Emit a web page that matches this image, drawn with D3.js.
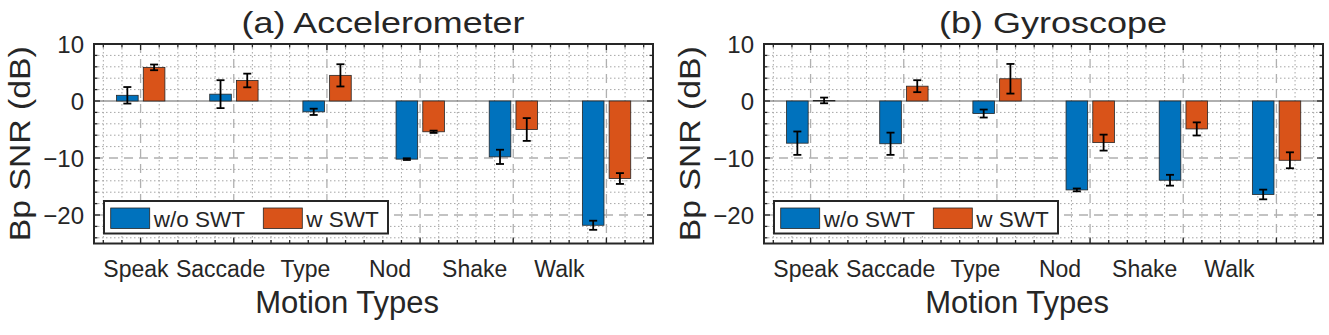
<!DOCTYPE html>
<html>
<head>
<meta charset="utf-8">
<script src="https://cdn.jsdelivr.net/npm/d3@7"></script>
<style>
body { margin: 0; background: #fff; }
text { font-family: "Liberation Sans", Arial, Helvetica, sans-serif; fill: #262626; }
</style>
</head>
<body>
<svg id="chart" width="1329" height="335"></svg>
<script>
// data (dB)
var motions = ["Speak", "Saccade", "Type", "Nod", "Shake", "Walk"];
var accWo    = [1.0, 1.2, -1.9, -10.2, -9.8, -21.8];
var accWoErr = [1.45, 2.45, 0.55, 0.15, 1.25, 0.8];
var accW     = [5.9, 3.6, 4.5, -5.4, -5.0, -13.6];
var accWErr  = [0.5, 1.2, 1.95, 0.2, 2.0, 0.95];
var gyrWo    = [-7.4, -7.5, -2.2, -15.6, -13.9, -16.4];
var gyrWoErr = [2.05, 1.95, 0.7, 0.25, 0.95, 0.85];
var gyrW     = [0.1, 2.6, 3.9, -7.3, -4.9, -10.4];
var gyrWErr  = [0.5, 1.05, 2.6, 1.4, 1.15, 1.4];
var yTicks = [-20, -10, 0, 10];
var seriesNames = ["w/o SWT", "w SWT"];

var blue = "#0072BD", orange = "#D95319";
var panelW = 559, plotTop = 44, plotBottom = 243.5;
var svg = d3.select("#chart");

function isInt(v) { return Math.abs(v - Math.round(v)) < 1e-6; }

function drawPanel(left, title, wo, woErr, w, wErr) {
  var g = svg.append("g");
  var x = d3.scaleLinear().domain([0.5, 6.5]).range([left, left + panelW]);
  var y = d3.scaleLinear().domain([-25, 10]).range([plotBottom, plotTop]);
  // category labels sit a bit left of the bar groups, as in the original
  var lab = d3.scalePoint().domain(motions).range([x(0.945), x(5.49)]);

  var xMinor = d3.range(3, 33).map(function (k) { return k * 0.2; }).filter(function (v) { return !isInt(v); });
  var xMajor = d3.range(1, 7);
  var yMinor = d3.range(-24, 10, 2).filter(function (v) { return v % 10 !== 0; });

  // grid
  g.selectAll(".gxm").data(xMinor).enter().append("line")
    .attr("x1", function (d) { return x(d); }).attr("x2", function (d) { return x(d); })
    .attr("y1", plotTop).attr("y2", plotBottom)
    .attr("stroke", "#a6a6a6").attr("stroke-width", 1).attr("stroke-dasharray", "1.5,2.5");
  g.selectAll(".gym").data(yMinor).enter().append("line")
    .attr("x1", left).attr("x2", left + panelW)
    .attr("y1", function (d) { return y(d); }).attr("y2", function (d) { return y(d); })
    .attr("stroke", "#a6a6a6").attr("stroke-width", 1).attr("stroke-dasharray", "1.5,2.5");
  g.selectAll(".gxM").data(xMajor).enter().append("line")
    .attr("x1", function (d) { return x(d); }).attr("x2", function (d) { return x(d); })
    .attr("y1", plotTop).attr("y2", plotBottom)
    .attr("stroke", "#b0b0b0").attr("stroke-width", 1.3).attr("stroke-dasharray", "9,6");
  g.selectAll(".gyM").data([-20, -10]).enter().append("line")
    .attr("x1", left).attr("x2", left + panelW)
    .attr("y1", function (d) { return y(d); }).attr("y2", function (d) { return y(d); })
    .attr("stroke", "#b0b0b0").attr("stroke-width", 1.3).attr("stroke-dasharray", "9,6");

  // baseline
  g.append("line").attr("x1", left).attr("x2", left + panelW)
    .attr("y1", y(0)).attr("y2", y(0)).attr("stroke", "#606060").attr("stroke-width", 1);

  var series = [
    { vals: wo, err: woErr, color: blue, off: -0.142 },
    { vals: w, err: wErr, color: orange, off: 0.145 }
  ];
  var bw = x(1.116) - x(1);

  series.forEach(function (s) {
    g.selectAll(null).data(s.vals).enter().append("rect")
      .attr("x", function (d, i) { return x(i + 1 + s.off) - bw; })
      .attr("y", function (d) { return y(Math.max(d, 0)); })
      .attr("width", bw * 2)
      .attr("height", function (d) { return Math.abs(y(d) - y(0)); })
      .attr("fill", s.color).attr("stroke", "#262626").attr("stroke-width", 0.8);

    var eb = g.selectAll(null).data(s.vals).enter().append("g")
      .attr("stroke", "#000").attr("stroke-width", 1.8);
    eb.append("line")
      .attr("x1", function (d, i) { return x(i + 1 + s.off); })
      .attr("x2", function (d, i) { return x(i + 1 + s.off); })
      .attr("y1", function (d, i) { return y(d + s.err[i]); })
      .attr("y2", function (d, i) { return y(d - s.err[i]); });
    [1, -1].forEach(function (sign) {
      eb.append("line")
        .attr("x1", function (d, i) { return x(i + 1 + s.off) - 4; })
        .attr("x2", function (d, i) { return x(i + 1 + s.off) + 4; })
        .attr("y1", function (d, i) { return y(d + sign * s.err[i]); })
        .attr("y2", function (d, i) { return y(d + sign * s.err[i]); });
    });
  });

  // inward ticks on all four sides
  var tk = g.append("g").attr("stroke", "#262626").attr("stroke-width", 1.3);
  function xt(vals, len) {
    vals.forEach(function (v) {
      tk.append("line").attr("x1", x(v)).attr("x2", x(v)).attr("y1", plotBottom).attr("y2", plotBottom - len);
      tk.append("line").attr("x1", x(v)).attr("x2", x(v)).attr("y1", plotTop).attr("y2", plotTop + len);
    });
  }
  function yt(vals, len) {
    vals.forEach(function (v) {
      tk.append("line").attr("x1", left).attr("x2", left + len).attr("y1", y(v)).attr("y2", y(v));
      tk.append("line").attr("x1", left + panelW).attr("x2", left + panelW - len).attr("y1", y(v)).attr("y2", y(v));
    });
  }
  xt(xMinor, 3.5); xt(xMajor, 6);
  yt(yMinor, 3.5); yt(yTicks, 6);

  // box
  g.append("rect").attr("x", left).attr("y", plotTop).attr("width", panelW).attr("height", plotBottom - plotTop)
    .attr("fill", "none").attr("stroke", "#262626").attr("stroke-width", 2);

  // y tick labels
  var ya = g.append("g").attr("transform", "translate(" + left + ",0)")
    .call(d3.axisLeft(y).tickValues(yTicks).tickSize(0).tickPadding(10));
  ya.select(".domain").remove();
  ya.selectAll("text").attr("font-size", 24).attr("fill", "#262626")
    .attr("font-family", "Liberation Sans, Arial, sans-serif").attr("dy", "0.36em");

  // x tick labels
  var xa = g.append("g").attr("transform", "translate(0," + plotBottom + ")")
    .call(d3.axisBottom(lab).tickSize(0));
  xa.select(".domain").remove();
  xa.selectAll("text").attr("font-size", 23).attr("fill", "#262626")
    .attr("font-family", "Liberation Sans, Arial, sans-serif").attr("y", 33.5).attr("dy", 0);

  // axis titles
  g.append("text").attr("x", (lab("Speak") + lab("Walk")) / 2).attr("y", 313)
    .attr("text-anchor", "middle").attr("font-size", 31).text("Motion Types");
  g.append("text").attr("transform", "translate(" + (left - 64) + "," + ((plotTop + plotBottom) / 2) + ") rotate(-90)")
    .attr("text-anchor", "middle").attr("font-size", 29)
    .attr("textLength", 195).attr("lengthAdjust", "spacingAndGlyphs").text("Bp SNR (dB)");

  // panel title
  var tl = title.charAt(1) === "a" ? 283 : 228;
  g.append("text").attr("x", left + 289).attr("y", 33).attr("text-anchor", "middle")
    .attr("font-size", 29).attr("textLength", tl).attr("lengthAdjust", "spacingAndGlyphs").text(title);

  // legend
  var lg = g.append("g").attr("transform", "translate(" + (left + 10) + ",201)");
  lg.append("rect").attr("width", 284).attr("height", 32.5)
    .attr("fill", "#fff").attr("stroke", "#262626").attr("stroke-width", 2);
  [blue, orange].forEach(function (c, i) {
    var ox = i === 0 ? 6.7 : 159.3;
    lg.append("rect").attr("x", ox).attr("y", 7).attr("width", 39).attr("height", 20.5)
      .attr("fill", c).attr("stroke", "#262626").attr("stroke-width", 0.8);
    lg.append("text").attr("x", ox + 43).attr("y", 26.3).attr("font-size", 22.5).text(seriesNames[i]);
  });
}

drawPanel(94, "(a) Accelerometer", accWo, accWoErr, accW, accWErr);
drawPanel(764, "(b) Gyroscope", gyrWo, gyrWoErr, gyrW, gyrWErr);
</script>
</body>
</html>
